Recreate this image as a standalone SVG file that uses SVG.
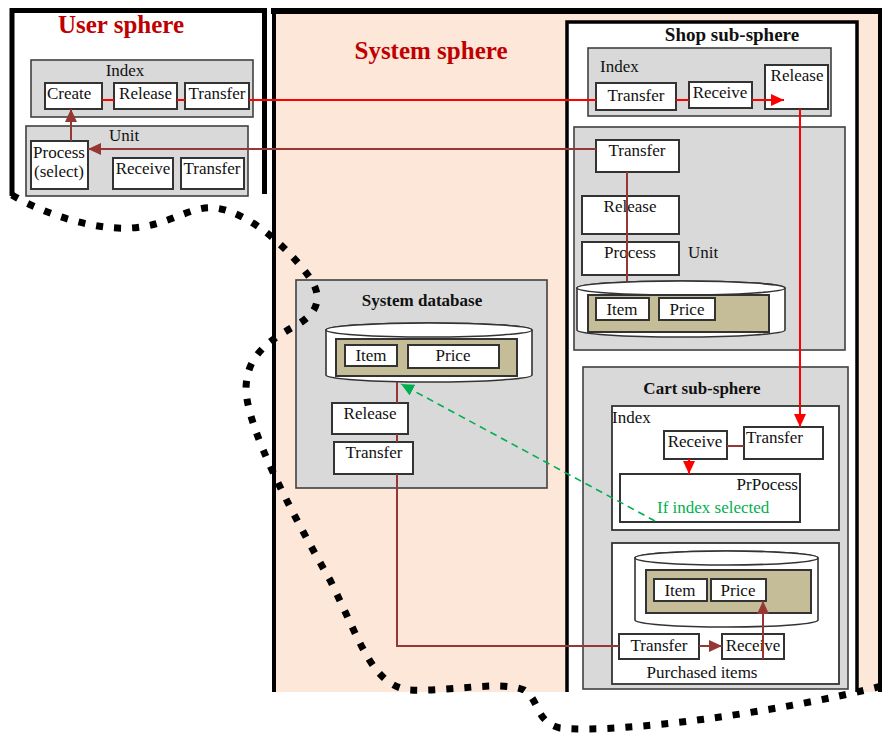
<svg xmlns="http://www.w3.org/2000/svg" width="882" height="734" viewBox="0 0 882 734">
<style>
.t{font-family:"Liberation Serif","Times New Roman",serif;font-size:17px;fill:#111;text-anchor:middle}
.s{text-anchor:start}
.e{text-anchor:end}
.b{font-weight:bold}
.title{font-family:"Liberation Serif",serif;font-weight:bold;font-size:25px;fill:#C00000;text-anchor:middle}
.box{fill:#fff;stroke:#333;stroke-width:2}
.gray{fill:#D9D9D9;stroke:#404040;stroke-width:1.6}
.wbox{fill:#fff;stroke:#333;stroke-width:1.8}
.tan{fill:#C4BD97;stroke:#333;stroke-width:2}
.cyl{fill:#fff;stroke:#333;stroke-width:1.6}
.red{stroke:#FF0000;stroke-width:2;fill:none}
.dred{stroke:#953735;stroke-width:2;fill:none}
.frame{fill:none;stroke:#000}
</style>
<defs>
<marker id="ar" markerUnits="userSpaceOnUse" markerWidth="14" markerHeight="12" refX="13" refY="6" orient="auto"><path d="M0,0 L13,6 L0,12 z" fill="#FF0000"/></marker>
<marker id="ad" markerUnits="userSpaceOnUse" markerWidth="14" markerHeight="12" refX="13" refY="6" orient="auto"><path d="M0,0 L13,6 L0,12 z" fill="#953735"/></marker>
<marker id="ag" markerUnits="userSpaceOnUse" markerWidth="14" markerHeight="12" refX="13" refY="6" orient="auto"><path d="M0,0 L13,6 L0,12 z" fill="#00B050"/></marker>
</defs>
<rect width="882" height="734" fill="#fff"/>

<!-- System sphere -->
<g id="system-sphere">
<rect x="274" y="11" width="605" height="681" fill="#FCE7D9"/>
<path class="frame" d="M274,692 V11" stroke-width="4"/>
<path class="frame" d="M271,11 H882" stroke-width="6"/>
<path class="frame" d="M880,8 V692" stroke-width="4"/>
<text class="title" x="431" y="59">System sphere</text>
</g>

<!-- User sphere -->
<g id="user-sphere">
<path class="frame" d="M12,196 V10.5 H264.5 V194" stroke-width="5"/>
<text class="title" x="121" y="33">User sphere</text>
</g>
<g id="user-index">
<rect class="gray" x="31" y="60" width="222" height="57"/>
<text class="t" x="125" y="76">Index</text>
</g>
<g id="user-create"><rect class="box" x="45" y="83" width="57" height="26"/><text class="t s" x="47" y="99">Create</text></g>
<g id="user-release"><rect class="box" x="114" y="83" width="63" height="26"/><text class="t" x="145.5" y="99">Release</text></g>
<g id="user-transfer"><rect class="box" x="185" y="83" width="64" height="26"/><text class="t" x="217" y="99">Transfer</text></g>
<g id="user-unit">
<rect class="gray" x="26" y="126" width="222" height="70"/>
<text class="t" x="124" y="141">Unit</text>
</g>
<g id="user-process"><rect class="box" x="31" y="141" width="57" height="48"/><text class="t" x="59" y="158">Process</text><text class="t" x="59" y="177">(select)</text></g>
<g id="user-receive"><rect class="box" x="113" y="158" width="60" height="31"/><text class="t" x="143" y="174">Receive</text></g>
<g id="user-unit-transfer"><rect class="box" x="181" y="158" width="63" height="31"/><text class="t" x="212" y="174">Transfer</text></g>

<!-- Shop sub-sphere -->
<g id="shop-sub-sphere">
<rect x="567" y="22" width="290" height="670" fill="#fff"/>
<path class="frame" d="M567,692 V22 H857 V692" stroke-width="3.5"/>
<text class="t b" x="732" y="41" style="font-size:19px">Shop  sub-sphere</text>
</g>
<g id="shop-index">
<rect class="gray" x="588" y="48" width="243" height="68"/>
<text class="t s" x="600" y="72">Index</text>
</g>
<g id="shop-transfer"><rect class="box" x="596" y="83" width="80" height="27"/><text class="t" x="636" y="101">Transfer</text></g>
<g id="shop-receive"><rect class="box" x="689" y="82" width="63" height="26"/><text class="t" x="720" y="98">Receive</text></g>
<g id="shop-release"><rect class="box" x="765" y="65" width="63" height="44"/><text class="t" x="797" y="81">Release</text></g>
<g id="shop-unit">
<rect class="gray" x="574" y="127" width="271" height="223"/>
<text class="t s" x="688" y="258">Unit</text>
</g>
<g id="shop-unit-transfer"><rect class="box" x="596" y="140" width="83" height="32"/><text class="t" x="637" y="156">Transfer</text></g>
<g id="shop-unit-release"><rect class="box" x="582" y="196" width="97" height="38"/><text class="t" x="630" y="212">Release</text></g>
<g id="shop-unit-process"><rect class="box" x="582" y="242" width="97" height="33"/><text class="t" x="630" y="258">Process</text></g>
<g id="shop-db">
<path class="cyl" d="M577,288 A104,7 0 0 1 785,288 V330 A104,7 0 0 1 577,330 Z"/>
<ellipse class="cyl" cx="681" cy="288" rx="104" ry="7"/>
<rect class="tan" x="588" y="295" width="181" height="37"/>
<rect class="box" x="596" y="298" width="53" height="22"/><text class="t" x="622" y="315">Item</text>
<rect class="box" x="659" y="298" width="56" height="22"/><text class="t" x="687" y="315">Price</text>
</g>

<!-- System database -->
<g id="system-database">
<rect class="gray" x="296" y="280" width="251" height="208"/>
<text class="t b" x="422" y="306">System database</text>
<path class="cyl" d="M326,330 A103,7 0 0 1 532,330 V375 A103,7 0 0 1 326,375 Z"/>
<ellipse class="cyl" cx="429" cy="330" rx="103" ry="7"/>
<rect class="tan" x="336" y="339" width="181" height="37"/>
<rect class="box" x="345" y="345" width="52" height="21"/><text class="t" x="371" y="361">Item</text>
<rect class="box" x="408" y="345" width="91" height="23"/><text class="t" x="453" y="361">Price</text>
</g>
<g id="sysdb-release"><rect class="box" x="332" y="403" width="76" height="31"/><text class="t" x="370" y="419">Release</text></g>
<g id="sysdb-transfer"><rect class="box" x="334" y="442" width="79" height="32"/><text class="t" x="374" y="458">Transfer</text></g>

<!-- Cart sub-sphere -->
<g id="cart-sub-sphere">
<rect class="gray" x="583" y="367" width="265" height="322"/>
<text class="t b" x="702" y="394">Cart sub-sphere</text>
</g>
<g id="cart-index">
<rect class="wbox" x="612" y="406" width="227" height="124"/>
<text class="t s" x="612" y="423">Index</text>
</g>
<g id="cart-receive"><rect class="box" x="664" y="431" width="63" height="28"/><text class="t" x="695" y="447">Receive</text></g>
<g id="cart-transfer"><rect class="box" x="744" y="427" width="79" height="32"/><text class="t s" x="746" y="443">Transfer</text></g>
<g id="cart-process">
<rect class="box" x="620" y="474" width="180" height="48"/>
<text class="t e" x="798" y="490">PrPocess</text>
<text class="t s" x="657" y="513" style="fill:#00B050">If index selected</text>
</g>
<g id="purchased-items">
<rect class="wbox" x="612" y="543" width="227" height="141"/>
<path class="cyl" d="M635,558 A91.5,7 0 0 1 818,558 V620 A91.5,7 0 0 1 635,620 Z"/>
<ellipse class="cyl" cx="726.5" cy="558" rx="91.5" ry="7"/>
<rect class="tan" x="646" y="570" width="165" height="43"/>
<rect class="box" x="654" y="579" width="53" height="22"/><text class="t" x="680" y="596">Item</text>
<rect class="box" x="711" y="579" width="55" height="22"/><text class="t" x="738" y="596">Price</text>
<text class="t" x="702" y="678">Purchased items</text>
</g>
<g id="pi-transfer"><rect class="box" x="619" y="634" width="80" height="25"/><text class="t" x="659" y="651">Transfer</text></g>
<g id="pi-receive"><rect class="box" x="722" y="634" width="62" height="25"/><text class="t" x="753" y="651">Receive</text></g>

<!-- Connectors -->
<g id="connectors">
<path class="red" d="M102,100 H114 M177,100 H185 M249,100 H596 M676,100 H689"/>
<path class="red" d="M752,100 H784" marker-end="url(#ar)"/>
<path class="red" d="M800,109 V427" marker-end="url(#ar)"/>
<path class="red" d="M689,459 V474" marker-end="url(#ar)"/>
<path class="dred" d="M596,149 H88" marker-end="url(#ad)"/>
<path class="dred" d="M71,141 V109" marker-end="url(#ad)"/>
<path class="dred" d="M627,172 V281"/>
<path class="dred" d="M397,382 V403 M397,434 V442"/>
<path class="dred" d="M397,474 V646 H619"/>
<path class="dred" d="M699,646 H722" marker-end="url(#ad)"/>
<path class="dred" d="M763,659 V601" marker-end="url(#ad)"/>
<path class="dred" d="M727,446 H744"/>
<path d="M655,521 L401,384" stroke="#00B050" stroke-width="1.6" stroke-dasharray="7 5" fill="none" marker-end="url(#ag)"/>
</g>

<!-- Dotted boundary -->
<path d="M12,195 C40,212 90,230 130,228 C170,226 190,205 215,208 C250,212 290,250 310,278 C325,300 315,315 295,326 C262,344 246,360 246,390 C248,430 290,510 330,580 C360,640 372,686 410,690 C450,692 500,680 524,690 C540,700 535,722 560,728 C620,734 780,712 882,686" fill="none" stroke="#000" stroke-width="7" stroke-dasharray="7 11"/>
</svg>
